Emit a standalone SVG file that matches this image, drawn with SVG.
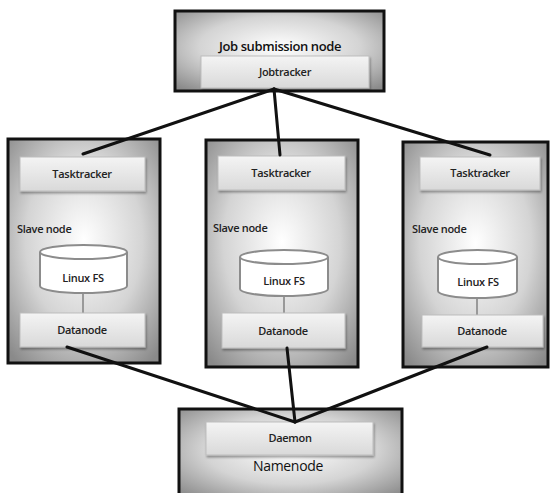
<svg xmlns="http://www.w3.org/2000/svg" width="550" height="493" viewBox="0 0 550 493">
<defs>
<radialGradient id="outer" cx="50%" cy="45%" r="70%">
<stop offset="0" stop-color="#ffffff"/>
<stop offset="0.55" stop-color="#d4d4d4"/>
<stop offset="1" stop-color="#8a8a8a"/>
</radialGradient>
<linearGradient id="inner" x1="0" y1="0" x2="0" y2="1">
<stop offset="0" stop-color="#f4f4f4"/>
<stop offset="1" stop-color="#d9d9d9"/>
</linearGradient>
<filter id="sh" x="-10%" y="-20%" width="130%" height="160%">
<feDropShadow dx="1" dy="2" stdDeviation="1.2" flood-color="#000" flood-opacity="0.35"/>
</filter>
</defs>
<style>
.outer{fill:url(#outer);stroke:#111;stroke-width:3}
.inner{fill:url(#inner);stroke:#bdbdbd;stroke-width:1;filter:url(#sh)}
.cyl{fill:#fff;stroke:#8c8c8c;stroke-width:2}
.t{font-family:"Open Sans","Liberation Sans",sans-serif;font-size:11px;font-weight:600;fill:#222;letter-spacing:-0.3px}
.big{font-family:"Open Sans","Liberation Sans",sans-serif;font-size:13px;font-weight:600;fill:#111;letter-spacing:-0.4px}
.nn{font-family:"Open Sans","Liberation Sans",sans-serif;font-size:14px;fill:#111;letter-spacing:-0.3px}
.conn{stroke:#111;stroke-width:3;fill:none;stroke-linecap:round}
.lnk{stroke:#999;stroke-width:2}
</style>

<g id="job-node">
<rect class="outer" x="175" y="11" width="209" height="80"/>
<text class="big" x="280" y="51" text-anchor="middle">Job submission node</text>
<rect class="inner" x="201" y="56" width="168" height="32"/>
<text class="t" x="285" y="76" text-anchor="middle">Jobtracker</text>
</g>

<g id="slave-1">
<rect class="outer" x="8" y="139" width="152" height="224"/>
<rect class="inner" x="20" y="157" width="125" height="34"/>
<text class="t" x="82" y="178" text-anchor="middle">Tasktracker</text>
<text class="t" x="17" y="233">Slave node</text>
<line class="lnk" x1="83" y1="292" x2="83" y2="313"/>
<path class="cyl" d="M40,252 V286 A43.5,7 0 0 0 127,286 V252"/>
<ellipse class="cyl" cx="83.5" cy="252" rx="43.5" ry="7"/>
<text class="t" x="83" y="282" text-anchor="middle">Linux FS</text>
<rect class="inner" x="20" y="313" width="125" height="34"/>
<text class="t" x="82" y="334" text-anchor="middle">Datanode</text>
</g>

<g id="slave-2">
<rect class="outer" x="206" y="140" width="152" height="227"/>
<rect class="inner" x="218" y="156" width="127" height="34"/>
<text class="t" x="281" y="177" text-anchor="middle">Tasktracker</text>
<text class="t" x="213" y="232">Slave node</text>
<line class="lnk" x1="284" y1="295" x2="284" y2="313"/>
<path class="cyl" d="M240,257 V289 A44,7 0 0 0 328,289 V257"/>
<ellipse class="cyl" cx="284" cy="257" rx="44" ry="7"/>
<text class="t" x="284" y="285" text-anchor="middle">Linux FS</text>
<rect class="inner" x="222" y="313" width="123" height="35"/>
<text class="t" x="283" y="335" text-anchor="middle">Datanode</text>
</g>

<g id="slave-3">
<rect class="outer" x="403" y="142" width="145" height="225"/>
<rect class="inner" x="420" y="157" width="120" height="33"/>
<text class="t" x="480" y="177" text-anchor="middle">Tasktracker</text>
<text class="t" x="412" y="233">Slave node</text>
<line class="lnk" x1="477" y1="297" x2="477" y2="315"/>
<path class="cyl" d="M438,257 V291 A39.5,7 0 0 0 517,291 V257"/>
<ellipse class="cyl" cx="477.5" cy="257" rx="39.5" ry="7"/>
<text class="t" x="478" y="286" text-anchor="middle">Linux FS</text>
<rect class="inner" x="422" y="315" width="121" height="32"/>
<text class="t" x="482" y="335" text-anchor="middle">Datanode</text>
</g>

<g id="namenode">
<rect class="outer" x="179" y="409" width="223" height="90"/>
<rect class="inner" x="206" y="422" width="167" height="33"/>
<text class="t" x="290" y="442" text-anchor="middle">Daemon</text>
<text class="nn" x="288" y="471" text-anchor="middle">Namenode</text>
</g>

<g id="connectors">
<line class="conn" x1="274" y1="89" x2="83" y2="154"/>
<line class="conn" x1="274" y1="89" x2="280" y2="155"/>
<line class="conn" x1="274" y1="89" x2="490" y2="155"/>
<line class="conn" x1="67" y1="347" x2="295" y2="422"/>
<line class="conn" x1="287" y1="348" x2="295" y2="422"/>
<line class="conn" x1="487" y1="347" x2="295" y2="422"/>
</g>
</svg>
